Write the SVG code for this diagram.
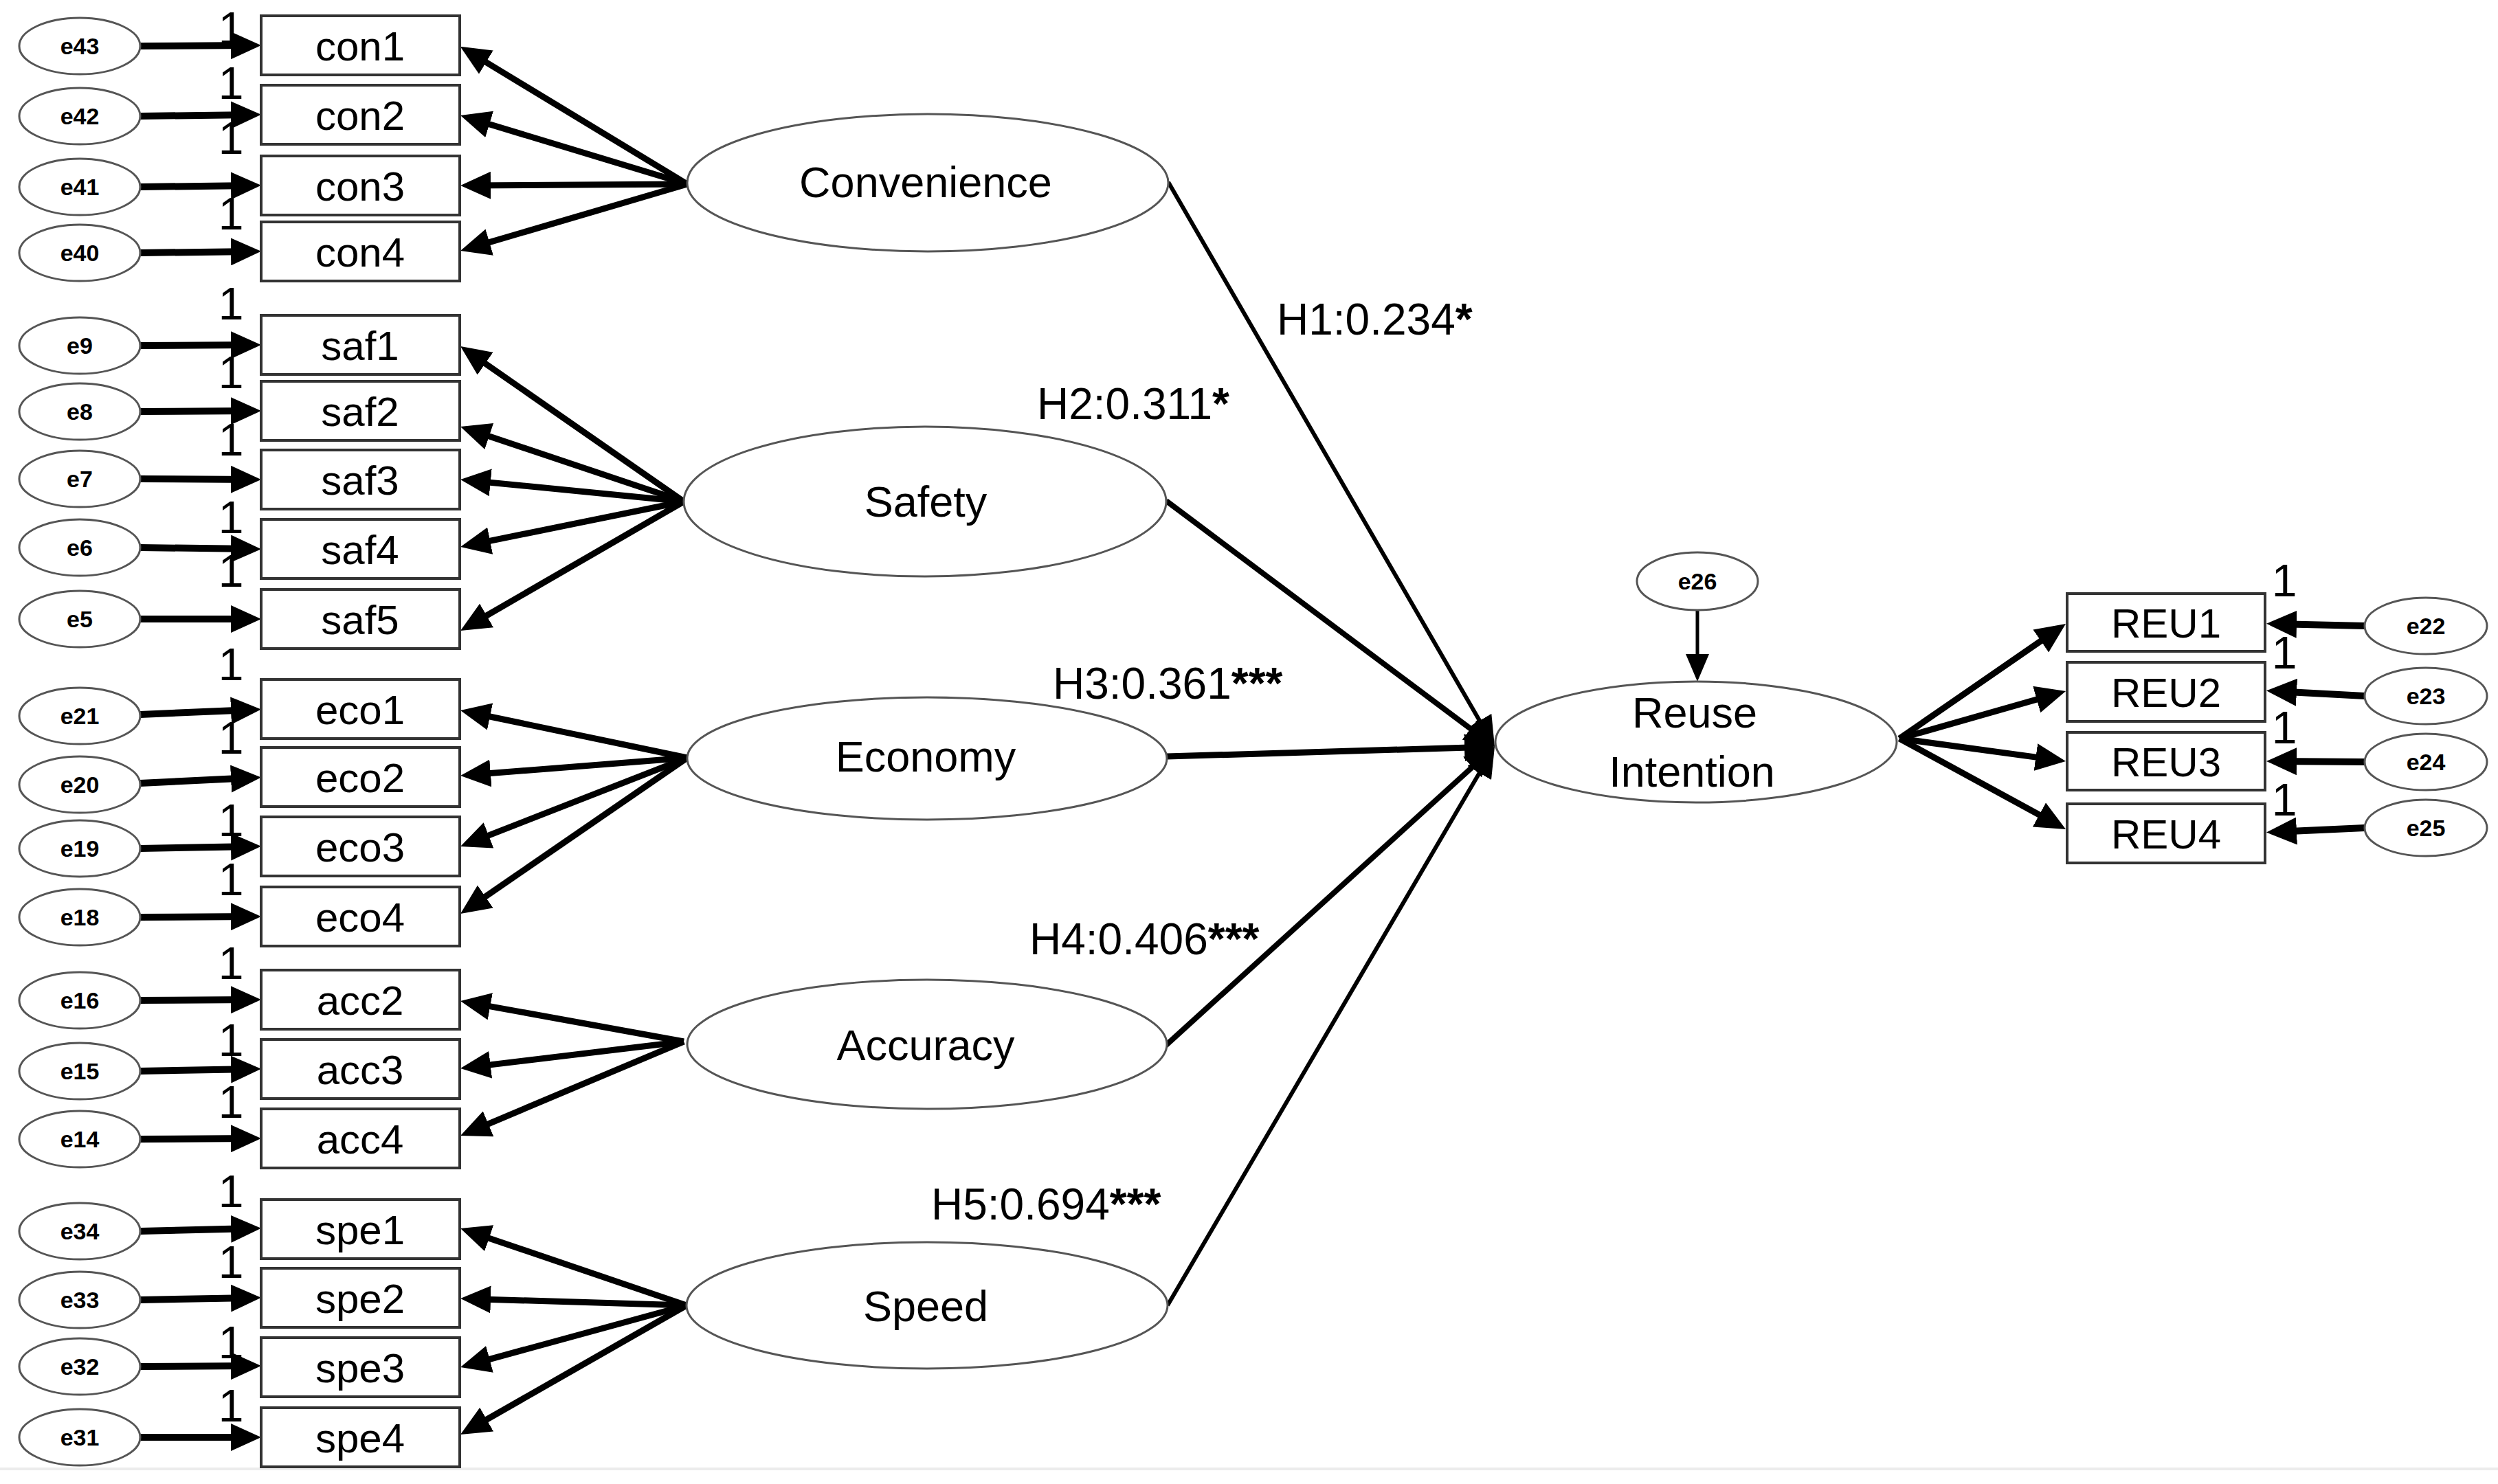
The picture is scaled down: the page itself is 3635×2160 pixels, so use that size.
<svg xmlns="http://www.w3.org/2000/svg" width="3635" height="2160" viewBox="0 0 3635 2160">
<style>
.box{fill:#fff;stroke:#333;stroke-width:4}
.lat{fill:#fff;stroke:#555;stroke-width:3}
.err{fill:#fff;stroke:#555;stroke-width:3}
.t{font-family:"Liberation Sans",Arial,sans-serif;fill:#000;text-anchor:middle}
.bl{font-size:60px}
.ll{font-size:63px}
.el{font-size:34px;font-weight:bold}
.one{font-family:"Liberation Sans",Arial,sans-serif;font-size:66px;fill:#000;text-anchor:middle}
.hl{font-family:"Liberation Sans",Arial,sans-serif;font-size:64px;fill:#000}
.st{font-weight:bold}
.a{stroke:#000;fill:none;marker-end:url(#ah)}
.w10{stroke-width:10}
.w9{stroke-width:9}
</style>
<defs>
<marker id="ah" markerUnits="userSpaceOnUse" viewBox="0 0 44 40" markerWidth="44" markerHeight="40" refX="32" refY="20" orient="auto"><path d="M0,0 L44,20 L0,40 z" fill="#000"/></marker>
<marker id="ahs" markerUnits="userSpaceOnUse" viewBox="0 0 40 34" markerWidth="40" markerHeight="34" refX="28" refY="17" orient="auto"><path d="M0,0 L40,17 L0,34 z" fill="#000"/></marker>
</defs>
<rect x="0" y="0" width="3635" height="2160" fill="#fff"/>
<rect x="0" y="2136" width="3635" height="4" fill="#ececec"/>

<g id="connectors">
<g class="a w10">
<line x1="204" y1="67" x2="368" y2="66"/>
<line x1="204" y1="169" x2="368" y2="167"/>
<line x1="204" y1="272" x2="368" y2="270"/>
<line x1="204" y1="368" x2="368" y2="366"/>
<line x1="204" y1="503" x2="368" y2="502"/>
<line x1="204" y1="599" x2="368" y2="598"/>
<line x1="204" y1="697" x2="368" y2="698"/>
<line x1="204" y1="797" x2="368" y2="799"/>
<line x1="204" y1="901" x2="368" y2="901"/>
<line x1="204" y1="1040" x2="368" y2="1033"/>
<line x1="204" y1="1140" x2="368" y2="1132"/>
<line x1="204" y1="1235" x2="368" y2="1232"/>
<line x1="204" y1="1335" x2="368" y2="1334"/>
<line x1="204" y1="1456" x2="368" y2="1455"/>
<line x1="204" y1="1559" x2="368" y2="1556"/>
<line x1="204" y1="1658" x2="368" y2="1657"/>
<line x1="204" y1="1792" x2="368" y2="1788"/>
<line x1="204" y1="1892" x2="368" y2="1889"/>
<line x1="204" y1="1989" x2="368" y2="1988"/>
<line x1="204" y1="2092" x2="368" y2="2092"/>
<line x1="3441" y1="911" x2="3310" y2="908"/>
<line x1="3441" y1="1013" x2="3310" y2="1006"/>
<line x1="3441" y1="1109" x2="3310" y2="1108"/>
<line x1="3441" y1="1205" x2="3310" y2="1211"/>
</g>
<g class="a w9">
<line x1="1000" y1="268" x2="680" y2="74"/>
<line x1="1000" y1="268" x2="681.5" y2="171.5"/>
<line x1="1000" y1="268" x2="682" y2="270"/>
<line x1="1000" y1="268" x2="681.5" y2="361.6"/>
<line x1="995" y1="730" x2="679.9" y2="510.9"/>
<line x1="995" y1="730" x2="681.4" y2="624.8"/>
<line x1="995" y1="730" x2="681.9" y2="699.2"/>
<line x1="995" y1="730" x2="681.8" y2="793.6"/>
<line x1="995" y1="730" x2="680.4" y2="912"/>
<line x1="1000" y1="1103" x2="681.7" y2="1036.5"/>
<line x1="1000" y1="1103" x2="682" y2="1128"/>
<line x1="1000" y1="1103" x2="681.2" y2="1227.6"/>
<line x1="1000" y1="1103" x2="679.9" y2="1323.2"/>
<line x1="995" y1="1516" x2="681.8" y2="1459.1"/>
<line x1="995" y1="1516" x2="681.9" y2="1553.6"/>
<line x1="995" y1="1516" x2="681.1" y2="1648.3"/>
<line x1="999" y1="1900" x2="681.4" y2="1791.9"/>
<line x1="999" y1="1900" x2="682" y2="1890.4"/>
<line x1="999" y1="1900" x2="681.6" y2="1986.8"/>
<line x1="999" y1="1900" x2="680.4" y2="2082"/>
<line x1="2764" y1="1075" x2="2996.1" y2="914.8"/>
<line x1="2764" y1="1075" x2="2994.5" y2="1009.3"/>
<line x1="2764" y1="1075" x2="2994.1" y2="1106.4"/>
<line x1="2764" y1="1075" x2="2995.5" y2="1201.3"/>
</g>
<line class="a" stroke-width="6" x1="1700" y1="265" x2="2169" y2="1076.6"/>
<line class="a" stroke-width="8" x1="1697" y1="729" x2="2165.4" y2="1079.8"/>
<line class="a" stroke-width="9" x1="1698" y1="1101" x2="2163" y2="1087.3"/>
<line class="a" stroke-width="8" x1="1696" y1="1522" x2="2166.1" y2="1095.1"/>
<line class="a" stroke-width="6" x1="1699" y1="1900" x2="2168.9" y2="1097.4"/>
<line stroke="#000" stroke-width="5" x1="2470" y1="888" x2="2470" y2="980" marker-end="url(#ahs)"/>
</g>

<g id="labels-one">
<text class="one" x="336" y="64">1</text>
<text class="one" x="336" y="144">1</text>
<text class="one" x="336" y="224">1</text>
<text class="one" x="336" y="334">1</text>
<text class="one" x="336" y="465">1</text>
<text class="one" x="336" y="565">1</text>
<text class="one" x="336" y="663">1</text>
<text class="one" x="336" y="776">1</text>
<text class="one" x="336" y="854">1</text>
<text class="one" x="336" y="990">1</text>
<text class="one" x="336" y="1097">1</text>
<text class="one" x="336" y="1217">1</text>
<text class="one" x="336" y="1303">1</text>
<text class="one" x="336" y="1425">1</text>
<text class="one" x="336" y="1537">1</text>
<text class="one" x="336" y="1627">1</text>
<text class="one" x="336" y="1757">1</text>
<text class="one" x="336" y="1860">1</text>
<text class="one" x="336" y="1977">1</text>
<text class="one" x="336" y="2069">1</text>
<text class="one" x="3324" y="868">1</text>
<text class="one" x="3324" y="973">1</text>
<text class="one" x="3324" y="1082">1</text>
<text class="one" x="3324" y="1187">1</text>
</g>

<g id="path-labels">
<text class="hl" x="1858" y="487">H1:0.234<tspan class="st">*</tspan></text>
<text class="hl" x="1509" y="610">H2:0.311<tspan class="st">*</tspan></text>
<text class="hl" x="1532" y="1017">H3:0.361<tspan class="st">***</tspan></text>
<text class="hl" x="1498" y="1389">H4:0.406<tspan class="st">***</tspan></text>
<text class="hl" x="1355" y="1775">H5:0.694<tspan class="st">***</tspan></text>
</g>

<g id="e43"><ellipse class="err" cx="116" cy="67" rx="88" ry="41"/><text class="t el" x="116" y="79">e43</text></g>
<g id="e42"><ellipse class="err" cx="116" cy="169" rx="88" ry="41"/><text class="t el" x="116" y="181">e42</text></g>
<g id="e41"><ellipse class="err" cx="116" cy="272" rx="88" ry="41"/><text class="t el" x="116" y="284">e41</text></g>
<g id="e40"><ellipse class="err" cx="116" cy="368" rx="88" ry="41"/><text class="t el" x="116" y="380">e40</text></g>
<g id="e9"><ellipse class="err" cx="116" cy="503" rx="88" ry="41"/><text class="t el" x="116" y="515">e9</text></g>
<g id="e8"><ellipse class="err" cx="116" cy="599" rx="88" ry="41"/><text class="t el" x="116" y="611">e8</text></g>
<g id="e7"><ellipse class="err" cx="116" cy="697" rx="88" ry="41"/><text class="t el" x="116" y="709">e7</text></g>
<g id="e6"><ellipse class="err" cx="116" cy="797" rx="88" ry="41"/><text class="t el" x="116" y="809">e6</text></g>
<g id="e5"><ellipse class="err" cx="116" cy="901" rx="88" ry="41"/><text class="t el" x="116" y="913">e5</text></g>
<g id="e21"><ellipse class="err" cx="116" cy="1042" rx="88" ry="41"/><text class="t el" x="116" y="1054">e21</text></g>
<g id="e20"><ellipse class="err" cx="116" cy="1142" rx="88" ry="41"/><text class="t el" x="116" y="1154">e20</text></g>
<g id="e19"><ellipse class="err" cx="116" cy="1235" rx="88" ry="41"/><text class="t el" x="116" y="1247">e19</text></g>
<g id="e18"><ellipse class="err" cx="116" cy="1335" rx="88" ry="41"/><text class="t el" x="116" y="1347">e18</text></g>
<g id="e16"><ellipse class="err" cx="116" cy="1456" rx="88" ry="41"/><text class="t el" x="116" y="1468">e16</text></g>
<g id="e15"><ellipse class="err" cx="116" cy="1559" rx="88" ry="41"/><text class="t el" x="116" y="1571">e15</text></g>
<g id="e14"><ellipse class="err" cx="116" cy="1658" rx="88" ry="41"/><text class="t el" x="116" y="1670">e14</text></g>
<g id="e34"><ellipse class="err" cx="116" cy="1792" rx="88" ry="41"/><text class="t el" x="116" y="1804">e34</text></g>
<g id="e33"><ellipse class="err" cx="116" cy="1892" rx="88" ry="41"/><text class="t el" x="116" y="1904">e33</text></g>
<g id="e32"><ellipse class="err" cx="116" cy="1989" rx="88" ry="41"/><text class="t el" x="116" y="2001">e32</text></g>
<g id="e31"><ellipse class="err" cx="116" cy="2092" rx="88" ry="41"/><text class="t el" x="116" y="2104">e31</text></g>
<g id="e26"><ellipse class="err" cx="2470" cy="846" rx="88" ry="42"/><text class="t el" x="2470" y="858">e26</text></g>
<g id="e22"><ellipse class="err" cx="3530" cy="911" rx="89" ry="41"/><text class="t el" x="3530" y="923">e22</text></g>
<g id="e23"><ellipse class="err" cx="3530" cy="1013" rx="89" ry="41"/><text class="t el" x="3530" y="1025">e23</text></g>
<g id="e24"><ellipse class="err" cx="3530" cy="1109" rx="89" ry="41"/><text class="t el" x="3530" y="1121">e24</text></g>
<g id="e25"><ellipse class="err" cx="3530" cy="1205" rx="89" ry="41"/><text class="t el" x="3530" y="1217">e25</text></g>

<g id="con1"><rect class="box" x="380" y="23" width="289" height="86"/><text class="t bl" x="524" y="88">con1</text></g>
<g id="con2"><rect class="box" x="380" y="124" width="289" height="86"/><text class="t bl" x="524" y="189">con2</text></g>
<g id="con3"><rect class="box" x="380" y="227" width="289" height="86"/><text class="t bl" x="524" y="292">con3</text></g>
<g id="con4"><rect class="box" x="380" y="323" width="289" height="86"/><text class="t bl" x="524" y="388">con4</text></g>
<g id="saf1"><rect class="box" x="380" y="459" width="289" height="86"/><text class="t bl" x="524" y="524">saf1</text></g>
<g id="saf2"><rect class="box" x="380" y="555" width="289" height="86"/><text class="t bl" x="524" y="620">saf2</text></g>
<g id="saf3"><rect class="box" x="380" y="655" width="289" height="86"/><text class="t bl" x="524" y="720">saf3</text></g>
<g id="saf4"><rect class="box" x="380" y="756" width="289" height="86"/><text class="t bl" x="524" y="821">saf4</text></g>
<g id="saf5"><rect class="box" x="380" y="858" width="289" height="86"/><text class="t bl" x="524" y="923">saf5</text></g>
<g id="eco1"><rect class="box" x="380" y="989" width="289" height="86"/><text class="t bl" x="524" y="1054">eco1</text></g>
<g id="eco2"><rect class="box" x="380" y="1088" width="289" height="86"/><text class="t bl" x="524" y="1153">eco2</text></g>
<g id="eco3"><rect class="box" x="380" y="1189" width="289" height="86"/><text class="t bl" x="524" y="1254">eco3</text></g>
<g id="eco4"><rect class="box" x="380" y="1291" width="289" height="86"/><text class="t bl" x="524" y="1356">eco4</text></g>
<g id="acc2"><rect class="box" x="380" y="1412" width="289" height="86"/><text class="t bl" x="524" y="1477">acc2</text></g>
<g id="acc3"><rect class="box" x="380" y="1513" width="289" height="86"/><text class="t bl" x="524" y="1578">acc3</text></g>
<g id="acc4"><rect class="box" x="380" y="1614" width="289" height="86"/><text class="t bl" x="524" y="1679">acc4</text></g>
<g id="spe1"><rect class="box" x="380" y="1746" width="289" height="86"/><text class="t bl" x="524" y="1811">spe1</text></g>
<g id="spe2"><rect class="box" x="380" y="1846" width="289" height="86"/><text class="t bl" x="524" y="1911">spe2</text></g>
<g id="spe3"><rect class="box" x="380" y="1947" width="289" height="86"/><text class="t bl" x="524" y="2012">spe3</text></g>
<g id="spe4"><rect class="box" x="380" y="2049" width="289" height="86"/><text class="t bl" x="524" y="2114">spe4</text></g>
<g id="REU1"><rect class="box" x="3008" y="864" width="288" height="84"/><text class="t bl" x="3152" y="928">REU1</text></g>
<g id="REU2"><rect class="box" x="3008" y="964" width="288" height="86"/><text class="t bl" x="3152" y="1029">REU2</text></g>
<g id="REU3"><rect class="box" x="3008" y="1066" width="288" height="84"/><text class="t bl" x="3152" y="1130">REU3</text></g>
<g id="REU4"><rect class="box" x="3008" y="1170" width="288" height="86"/><text class="t bl" x="3152" y="1235">REU4</text></g>

<g id="Convenience"><ellipse class="lat" cx="1350" cy="266" rx="350" ry="100"/><text class="t ll" x="1347" y="287">Convenience</text></g>
<g id="Safety"><ellipse class="lat" cx="1346" cy="730" rx="351" ry="109"/><text class="t ll" x="1347" y="752">Safety</text></g>
<g id="Economy"><ellipse class="lat" cx="1349" cy="1104" rx="349" ry="89"/><text class="t ll" x="1347" y="1123">Economy</text></g>
<g id="Accuracy"><ellipse class="lat" cx="1349" cy="1520" rx="349" ry="94"/><text class="t ll" x="1347" y="1543">Accuracy</text></g>
<g id="Speed"><ellipse class="lat" cx="1349" cy="1900" rx="350" ry="92"/><text class="t ll" x="1347" y="1923">Speed</text></g>
<g id="ReuseIntention"><ellipse class="lat" cx="2468" cy="1080" rx="292" ry="88"/><text class="t ll" x="2466" y="1059">Reuse</text><text class="t ll" x="2462" y="1145">Intention</text></g>
</svg>
